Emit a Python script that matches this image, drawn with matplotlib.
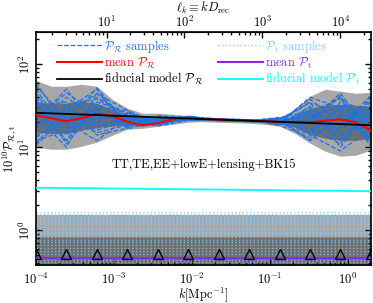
import matplotlib
matplotlib.use("Agg")
import matplotlib.pyplot as plt

plt.rcParams['font.family'] = 'serif'
plt.rcParams['font.serif'] = ['cmr10']
plt.rcParams['mathtext.fontset'] = 'cm'
plt.rcParams['axes.formatter.use_mathtext'] = True
plt.rcParams['font.size'] = 9

# ---------- данные ----------
D_rec = 12400.0  # Mpc

k_knots = [1.0e-4, 2.46e-4, 6.05e-4, 1.49e-3, 3.66e-3, 9.00e-3,
           2.21e-2, 5.45e-2, 0.134, 0.329, 0.81, 2.0]
k_grid = [1.0e-4, 1.57e-4, 2.46e-4, 3.86e-4, 6.05e-4, 9.49e-4, 1.49e-3,
          2.34e-3, 3.66e-3, 5.75e-3, 9.00e-3, 1.41e-2, 2.21e-2, 3.48e-2,
          5.45e-2, 8.56e-2, 0.134, 0.211, 0.329, 0.518, 0.81, 1.27, 2.0]
k_ends = [1.0e-4, 2.0]

# P_R: mean and bands on k_grid
pr_mean = [24.3, 22.4, 20.6, 22.4, 25.3, 23.6, 20.3, 18.4, 19.5, 21.7, 22.4, 21.9,
           21.5, 21.1, 20.9, 20.6, 20.2, 20.0, 20.0, 20.9, 21.7, 20.0, 16.0]
pr_u95 = [64.1, 54.3, 54.3, 57.4, 54.3, 37.9, 29.5, 25.7, 25.7, 25.0, 24.0, 23.3,
          22.7, 22.4, 22.0, 21.7, 23.0, 27.9, 41.2, 50.0, 47.3, 44.7, 46.0]
pr_l95 = [10.0, 9.46, 9.46, 10.3, 11.5, 13.9, 16.5, 16.9, 17.9, 18.9, 20.0, 20.3,
          20.0, 19.7, 19.5, 18.9, 17.9, 14.7, 11.2, 8.95, 7.79, 8.01, 9.20]
pr_u68 = [34.8, 33.9, 33.9, 35.8, 33.9, 28.7, 24.3, 22.4, 23.0, 23.6, 23.1, 22.7,
          22.2, 21.7, 21.4, 21.1, 21.4, 23.6, 29.5, 32.1, 33.0, 32.1, 31.2]
pr_l68 = [15.2, 14.7, 14.7, 16.0, 17.4, 17.9, 18.4, 17.9, 19.2, 20.6, 21.1, 21.0,
          20.8, 20.6, 20.3, 20.0, 19.2, 17.4, 14.3, 12.8, 12.1, 12.1, 12.8]

# P_R samples on k_knots
pr_samples = [
    [40, 18, 30, 22, 19, 23, 21.5, 21, 20, 26, 14, 20],
    [15, 30, 20, 18, 21, 22, 21, 20.5, 21, 15, 30, 12],
    [28, 12, 40, 24, 18.5, 22.5, 21.8, 21.2, 19, 30, 18, 35],
    [20, 25, 16, 21, 20, 21.5, 21.2, 20.8, 22, 12, 25, 18],
    [55, 22, 25, 19, 22, 23.5, 21, 20.6, 19.5, 22, 40, 10],
    [12, 16, 35, 27, 19, 22, 21.6, 21, 20.5, 35, 10, 28],
    [32, 35, 14, 17, 24, 22.8, 21.3, 20.2, 21.5, 18, 22, 15],
    [24, 10, 45, 20, 18, 21, 22, 21.5, 18.5, 13, 35, 22],
    [18, 40, 22, 25, 20.5, 23, 20.8, 20.9, 20, 25, 16, 40],
    [45, 14, 28, 18, 23, 22, 21.4, 20.4, 21, 16, 28, 11],
    [10.5, 24, 18, 22, 19.5, 21.8, 21.9, 21.3, 19, 28, 12, 25],
    [26, 28, 50, 16.5, 21, 23.2, 21.1, 20.7, 22.5, 20, 45, 14],
    [14, 20, 12, 23, 18.2, 22.4, 21.7, 21.1, 20.3, 38, 20, 30],
    [35, 12, 32, 26, 20, 21.2, 21.2, 20.5, 19.8, 14, 9, 17],
    [22, 45, 26, 19.5, 22.5, 22.6, 21.5, 20.9, 21.2, 23, 32, 20],
    [60, 17, 20, 21, 19, 23.8, 21, 21.4, 18.2, 31, 15, 38],
    [17, 33, 38, 24, 21.5, 22.2, 21.8, 20.3, 20.8, 12, 24, 13],
    [30, 22, 15, 18.5, 19.7, 21.4, 21.3, 21.0, 22.8, 27, 38, 24],
    [13, 26, 44, 28, 18.8, 22.9, 21.6, 20.6, 19.3, 17, 11, 32],
    [50, 15, 24, 20.5, 20.8, 21.6, 21.0, 21.2, 21.8, 34, 26, 16],
    [21, 50, 17, 22.5, 19.2, 23.4, 21.9, 20.8, 20.1, 21, 42, 11],
    [38, 11, 29, 17.5, 21.8, 22.1, 21.4, 20.5, 21.4, 15, 18, 42],
    [11, 29, 21, 25.5, 18.6, 22.7, 21.2, 21.3, 19.6, 40, 30, 19],
    [27, 19, 52, 19, 20.2, 21.9, 21.6, 20.7, 22.2, 24, 13, 27],
]

pr_fiducial = [26.0, 18.4]   # on k_ends
pt_fiducial = [3.25, 2.95]   # on k_ends

# P_t: upper limits (flat)
pt_u95 = [1.52, 1.52]
pt_u68 = [0.82, 0.82]
pt_floor = [0.1, 0.1]
pt_mean = [0.465, 0.465]
pt_samples = [1.65, 1.58, 1.50, 1.42, 1.34, 1.26, 1.18, 1.10, 1.03, 0.96, 0.89,
              0.83, 0.77, 0.71, 0.66, 0.61, 0.56, 0.52, 0.48, 0.44, 0.41]
knot_marker = [0.52] * len(k_knots)

# ---------- цвета ----------
c_blue = '#1f74e0'
c_light = '#a8a8a8'
c_dark = '#6e6e6e'

fig = plt.figure(figsize=(3.73, 3.03), dpi=100)
ax = fig.add_axes([0.0965, 0.1254, 0.898, 0.769])

# P_R
ax.fill_between(k_grid, pr_l95, pr_u95, color=c_light, lw=0, zorder=1)
ax.fill_between(k_grid, pr_l68, pr_u68, color=c_dark, lw=0, zorder=1)
for i, s in enumerate(pr_samples):
    ax.plot(k_knots, s, ls='--', lw=0.9, color=c_blue, zorder=2,
            label=r'$\mathcal{P}_\mathcal{R}$ samples' if i == 0 else None)
ax.plot(k_grid, pr_mean, color='red', lw=1.5, zorder=4, label=r'mean $\mathcal{P}_\mathcal{R}$')
ax.plot(k_ends, pr_fiducial, color='black', lw=1.3, zorder=5,
        label=r'fiducial model $\mathcal{P}_\mathcal{R}$')

# P_t
ax.fill_between(k_ends, pt_floor, pt_u95, color=c_light, lw=0, zorder=1)
ax.fill_between(k_ends, pt_floor, pt_u68, color=c_dark, lw=0, zorder=1)
for i, v in enumerate(pt_samples):
    ax.plot(k_ends, [v, v], ls=':', lw=1.0, color='lightskyblue', alpha=0.8, zorder=2,
            label=r'$\mathcal{P}_\mathrm{t}$ samples' if i == 0 else None)
ax.plot(k_ends, pt_mean, color='blueviolet', lw=1.5, zorder=4, label=r'mean $\mathcal{P}_\mathrm{t}$')
ax.plot(k_ends, pt_fiducial, color='cyan', lw=1.3, zorder=5,
        label=r'fiducial model $\mathcal{P}_\mathrm{t}$')
ax.plot(k_knots, knot_marker, ls='none', marker='^', ms=7.5, mfc='none', mec='black',
        mew=1.0, zorder=6)

ax.set_xscale('log')
ax.set_yscale('log')
ax.set_xlim(1e-4, 2.0)
ax.set_ylim(0.38, 245)

ax.text(0.5, 0.43, 'TT,TE,EE+lowE+lensing+BK15', transform=ax.transAxes,
        ha='center', va='center', fontsize=9)

ax.set_xlabel(r'$k[\mathrm{Mpc}^{-1}]$', labelpad=-1)
# подпись оси y отдельным текстом, чтобы не наезжала на метки
fig.text(0.027, 0.51, r'$10^{10}\mathcal{P}_{\mathcal{R},\mathrm{t}}$', rotation=90,
         ha='center', va='center', fontsize=9)

ax.tick_params(which='both', direction='in', top=False, right=True, width=1.0)
ax.tick_params(which='major', length=4.5)
ax.tick_params(axis='x', which='major', pad=5)
ax.tick_params(axis='y', which='major', pad=2, labelrotation=90)
ax.tick_params(which='minor', length=2.2)
for lab in ax.get_yticklabels():
    lab.set_va('center')
for sp in ax.spines.values():
    sp.set_linewidth(1.2)

sec = ax.secondary_xaxis('top', functions=(lambda k: k * D_rec, lambda l: l / D_rec))
sec.tick_params(which='both', direction='in', width=1.0)
sec.tick_params(which='major', length=4.5, pad=1.5)
sec.tick_params(which='minor', length=2.2)
sec.set_xlabel(r'$\ell_k \equiv kD_\mathrm{rec}$', labelpad=2)

handles, labels = ax.get_legend_handles_labels()
leg = ax.legend(handles, labels, ncol=2,
                loc='upper left', bbox_to_anchor=(0.063, 0.975), frameon=False,
                handlelength=3.6, handletextpad=0.15, columnspacing=1.2,
                labelspacing=0.05, borderpad=0, borderaxespad=0, labelcolor='linecolor',
                fontsize=9)

fig.savefig('out.png', dpi=100)
